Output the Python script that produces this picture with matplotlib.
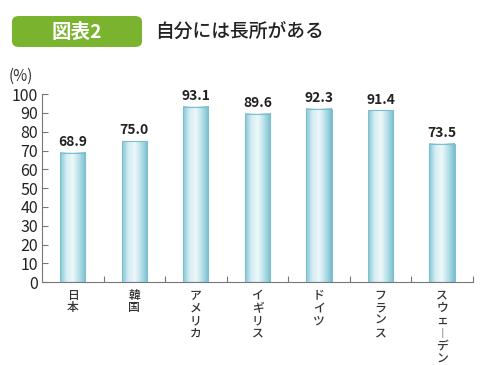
import numpy as np
import matplotlib
matplotlib.use('Agg')
import matplotlib.pyplot as plt
from matplotlib.patches import FancyBboxPatch, Rectangle
from matplotlib.colors import LinearSegmentedColormap

plt.rcParams['font.family'] = ['Noto Sans CJK JP', 'DejaVu Sans']

countries = ['日本', '韓国', 'アメリカ', 'イギリス', 'ドイツ', 'フランス', 'スウェーデン']
values = [68.9, 75.0, 93.1, 89.6, 92.3, 91.4, 73.5]
yticks = list(range(0, 101, 10))
title = '自分には長所がある'
badge = '図表2'

fig = plt.figure(figsize=(4.8, 3.65), dpi=100)
ax = fig.add_axes([0.0875, 0.227, 0.8975, 0.515])

# horizontal gradient for the bars
cmap = LinearSegmentedColormap.from_list('bar', ['#86c7d6', '#d6edf3', '#eef8fa', '#b4dfe8', '#78bdce'])
grad = np.linspace(0, 1, 64).reshape(1, -1)
width = 0.41
for i, v in enumerate(values):
    ax.imshow(grad, cmap=cmap, aspect='auto', extent=(i - width / 2, i + width / 2, 0, v), zorder=2)
    ax.add_patch(Rectangle((i - width / 2, 0), width, v, fill=False, edgecolor='#7dbfcf', lw=0.8, zorder=3))
    ax.text(i, v + 2, f'{v:.1f}', ha='center', va='bottom', fontsize=10, fontweight='bold', color='#222222')

ax.set_xlim(-0.5, 6.5)
ax.set_ylim(0, 100)
ax.set_yticks(yticks)
ax.set_yticklabels([str(t) for t in yticks], fontsize=11.5, color='#222222')
ax.tick_params(axis='y', direction='in', length=4, width=0.8, color='#777777', pad=3)
ax.set_xticks([i + 0.5 for i in range(len(countries))])
ax.set_xticklabels([])
ax.tick_params(axis='x', direction='in', length=4, width=0.8, color='#777777')
for s in ['top', 'right']:
    ax.spines[s].set_visible(False)
for s in ['left', 'bottom']:
    ax.spines[s].set_color('#777777')
    ax.spines[s].set_linewidth(0.8)

# vertical (stacked) category labels
for i, c in enumerate(countries):
    label = '\n'.join(ch if ch != 'ー' else '︱' for ch in c)
    ax.text(i, -3.5, label, ha='center', va='top', fontsize=8.5, fontweight='medium',
            color='#333333', linespacing=0.97)

fig.text(9 / 480, 1 - 76 / 365, '(%)', ha='left', va='center', fontsize=11, color='#333333')

# header
box = FancyBboxPatch((12 / 480, 1 - 47 / 365), 130 / 480, 31 / 365, boxstyle='round,pad=0,rounding_size=0.015',
                     transform=fig.transFigure, facecolor='#7ab32e', edgecolor='none')
fig.patches.append(box)
fig.text(77 / 480, 1 - 32 / 365, badge, ha='center', va='center', fontsize=14, fontweight='bold', color='white')
fig.text(155 / 480, 1 - 32 / 365, title, ha='left', va='center', fontsize=13.5, fontweight='medium', color='#222222')

fig.savefig('out.png', dpi=100)
